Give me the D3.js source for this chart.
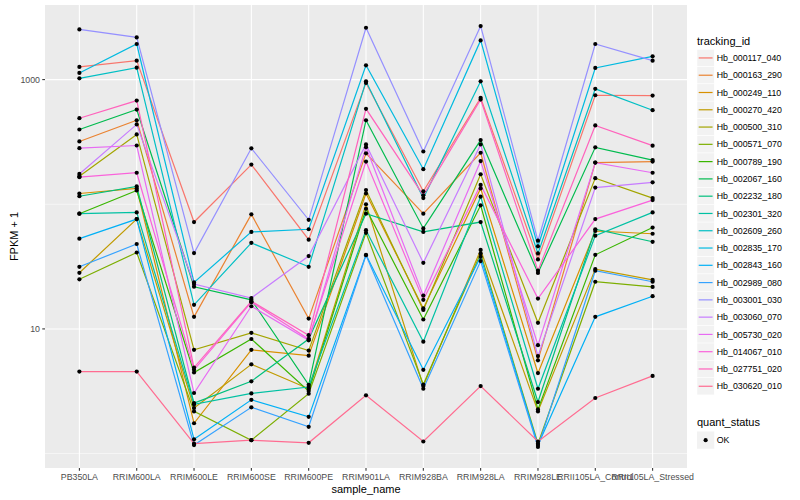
<!DOCTYPE html>
<html><head><meta charset="utf-8">
<script src="https://cdn.jsdelivr.net/npm/d3@7"></script>
<style>body{margin:0;background:#fff} text{font-family:"Liberation Sans", Arial, Helvetica, sans-serif}</style>
</head><body><svg id="c" width="800" height="500"></svg>
<script>
const categories = ["PB350LA","RRIM600LA","RRIM600LE","RRIM600SE","RRIM600PE","RRIM901LA","RRIM928BA","RRIM928LA","RRIM928LE","RRII105LA_Control","RRII105LA_Stressed"];
const trackingIds = ["Hb_000117_040","Hb_000163_290","Hb_000249_110","Hb_000270_420","Hb_000500_310","Hb_000571_070","Hb_000789_190","Hb_002067_160","Hb_002232_180","Hb_002301_320","Hb_002609_260","Hb_002835_170","Hb_002843_160","Hb_002989_080","Hb_003001_030","Hb_003060_070","Hb_005730_020","Hb_014067_010","Hb_027751_020","Hb_030620_010"];
const seriesColors = ["#F8766D","#EA8331","#D89000","#C09B00","#A3A500","#7CAE00","#39B600","#00BB4E","#00BF7D","#00C1A3","#00BFC4","#00BAE0","#00B0F6","#35A2FF","#9590FF","#C77CFF","#E76BF3","#FA62DB","#FF62BC","#FF6C91"];

// FPKM + 1 per sample, in category order
const hb_000117_040 = [1264, 1419, 72, 208, 52, 941, 127, 714, 36.1, 749, 745];
const hb_000163_290 = [319, 472, 12.5, 83, 12.1, 256, 84, 259, 5.6, 216, 220];
const hb_000249_110 = [122, 134, 1.75, 6.8, 6.1, 122, 14.6, 134, 4.42, 61, 58];
const hb_000270_420 = [28.2, 76, 2.32, 5.2, 3.31, 100, 3.48, 43, 2.18, 30.2, 24.7];
const hb_000500_310 = [168, 363, 6.8, 9.3, 6.7, 130, 14.2, 174, 11.2, 162, 112];
const hb_000571_070 = [25, 41, 2.18, 1.28, 3.02, 59, 3.58, 40.3, 1.2, 23.9, 21.7];
const hb_000789_190 = [84, 129, 4.47, 8.3, 3.17, 92, 11.9, 98, 2.26, 39.3, 65];
const hb_002067_160 = [398, 575, 21.8, 17.1, 3.56, 472, 64, 327, 28.1, 286, 226];
const hb_002232_180 = [116, 139, 2.54, 3.8, 8.3, 84, 60, 72, 2.59, 63, 50];
const hb_002301_320 = [84, 86, 2.48, 3.04, 3.42, 62, 7.9, 115, 3.31, 56, 86];
const hb_002609_260 = [1024, 1247, 15.6, 49, 31.5, 969, 112, 969, 40.3, 843, 568];
const hb_002835_170 = [1131, 1930, 23.6, 60, 63, 1302, 191, 2063, 46, 1240, 1536];
const hb_002843_160 = [53, 76, 1.3, 2.7, 1.97, 39.3, 4.7, 37.9, 1.17, 12.5, 18.3];
const hb_002989_080 = [31.5, 48, 1.17, 2.35, 1.64, 39, 3.31, 35, 1.13, 29.3, 23.9];
const hb_003001_030 = [2526, 2180, 40.6, 281, 75, 2606, 265, 2689, 51, 1930, 1419];
const hb_003060_070 = [175, 437, 22.9, 17.7, 38.4, 302, 33.9, 302, 6.05, 136, 150];
const hb_005730_020 = [282, 296, 3.06, 15.2, 8.1, 287, 18.5, 222, 7.4, 216, 179];
const hb_014067_010 = [165, 179, 4.7, 16.4, 8.3, 220, 17.1, 143, 17.5, 76, 108];
const hb_027751_020 = [490, 679, 4.9, 16.7, 8.9, 583, 118, 692, 29.3, 429, 295];
const hb_030620_010 = [4.55, 4.55, 1.2, 1.28, 1.22, 2.93, 1.25, 3.48, 1.25, 2.79, 4.2];

const seriesValues = [hb_000117_040, hb_000163_290, hb_000249_110, hb_000270_420, hb_000500_310, hb_000571_070, hb_000789_190, hb_002067_160, hb_002232_180, hb_002301_320, hb_002609_260, hb_002835_170, hb_002843_160, hb_002989_080, hb_003001_030, hb_003060_070, hb_005730_020, hb_014067_010, hb_027751_020, hb_030620_010];

const yMajorTicks = [10, 1000];
const yMinorTicks = [1, 100];
const quantStatus = ["OK"];

const svg = d3.select("#c");
const P = {left: 45, right: 687, top: 5, bottom: 468};

const x = d3.scalePoint().domain(categories).range([P.left, P.right]).padding(0.6);
const allVals = seriesValues.flat();
const lmin = Math.log10(d3.min(allVals)), lmax = Math.log10(d3.max(allVals));
const ex = (lmax - lmin) * 0.05;
const y = d3.scaleLog().domain([Math.pow(10, lmin - ex), Math.pow(10, lmax + ex)]).range([P.bottom, P.top]);

svg.append("rect").attr("x", P.left).attr("y", P.top).attr("width", P.right - P.left).attr("height", P.bottom - P.top).attr("fill", "#EBEBEB");

const grid = svg.append("g");
grid.selectAll(".minor").data(yMinorTicks).join("line")
  .attr("x1", P.left).attr("x2", P.right).attr("y1", d => y(d)).attr("y2", d => y(d))
  .attr("stroke", "#fff").attr("stroke-width", 0.53);
grid.selectAll(".majy").data(yMajorTicks).join("line")
  .attr("x1", P.left).attr("x2", P.right).attr("y1", d => y(d)).attr("y2", d => y(d))
  .attr("stroke", "#fff").attr("stroke-width", 1.07);
grid.selectAll(".majx").data(categories).join("line")
  .attr("y1", P.top).attr("y2", P.bottom).attr("x1", d => x(d)).attr("x2", d => x(d))
  .attr("stroke", "#fff").attr("stroke-width", 1.07);

const line = d3.line().x((d, i) => x(categories[i])).y(d => y(d));
svg.append("g").selectAll("path").data(seriesValues).join("path")
  .attr("d", d => line(d)).attr("fill", "none")
  .attr("stroke", (d, i) => seriesColors[i]).attr("stroke-width", 1.2);

const pts = [];
seriesValues.forEach(s => s.forEach((v, i) => pts.push({c: categories[i], v})));
svg.append("g").selectAll("circle").data(pts).join("circle")
  .attr("cx", d => x(d.c)).attr("cy", d => y(d.v)).attr("r", 2.1).attr("fill", "#000");

// axes
const ax = svg.append("g");
ax.selectAll(".yt").data(yMajorTicks).join("line")
  .attr("x1", P.left - 2.74).attr("x2", P.left).attr("y1", d => y(d)).attr("y2", d => y(d))
  .attr("stroke", "#333").attr("stroke-width", 1.07);
ax.selectAll(".yl").data(yMajorTicks).join("text")
  .attr("x", P.left - 5).attr("y", d => y(d) + 3.1).attr("text-anchor", "end")
  .attr("font-size", 8.8).attr("fill", "#4D4D4D").text(d => d3.format("d")(d));
ax.selectAll(".xt").data(categories).join("line")
  .attr("x1", d => x(d)).attr("x2", d => x(d)).attr("y1", P.bottom).attr("y2", P.bottom + 2.74)
  .attr("stroke", "#333").attr("stroke-width", 1.07);
ax.selectAll(".xl").data(categories).join("text")
  .attr("x", d => x(d)).attr("y", P.bottom + 12).attr("text-anchor", "middle")
  .attr("font-size", 8.8).attr("fill", "#4D4D4D").text(d => d);

svg.append("text").attr("x", (P.left + P.right) / 2).attr("y", 493).attr("text-anchor", "middle")
  .attr("font-size", 11).attr("fill", "#000").text("sample_name");
svg.append("text").attr("transform", `translate(17.5,${(P.top + P.bottom) / 2}) rotate(-90)`)
  .attr("text-anchor", "middle").attr("font-size", 11).attr("fill", "#000").text("FPKM + 1");

// legend 1
const L = {x: 697, titleY: 44.5, keyTop: 49.3, key: 17.28};
svg.append("text").attr("x", L.x).attr("y", L.titleY).attr("font-size", 11).text("tracking_id");
const lg = svg.append("g").selectAll("g").data(trackingIds).join("g")
  .attr("transform", (d, i) => `translate(${L.x},${L.keyTop + i * L.key})`);
lg.append("rect").attr("width", L.key).attr("height", L.key).attr("fill", "#F2F2F2").attr("stroke", "#fff").attr("stroke-width", 0.5);
lg.append("line").attr("x1", 1.7).attr("x2", L.key - 1.7).attr("y1", L.key / 2).attr("y2", L.key / 2)
  .attr("stroke", (d, i) => seriesColors[i]).attr("stroke-width", 1.2);
lg.append("text").attr("x", L.key + 2.5).attr("y", L.key / 2 + 3.1).attr("font-size", 8.8).attr("fill", "#000").text(d => d);

// legend 2
const l2Top = 431.5;
svg.append("text").attr("x", L.x).attr("y", l2Top - 5.5).attr("font-size", 11).text("quant_status");
const lg2 = svg.append("g").selectAll("g").data(quantStatus).join("g")
  .attr("transform", (d, i) => `translate(${L.x},${l2Top + i * L.key})`);
lg2.append("rect").attr("width", L.key).attr("height", L.key).attr("fill", "#F2F2F2");
lg2.append("circle").attr("cx", L.key / 2).attr("cy", L.key / 2).attr("r", 2.1).attr("fill", "#000");
lg2.append("text").attr("x", L.key + 2.5).attr("y", L.key / 2 + 3.1).attr("font-size", 8.8).attr("fill", "#000").text(d => d);
</script></body></html>
